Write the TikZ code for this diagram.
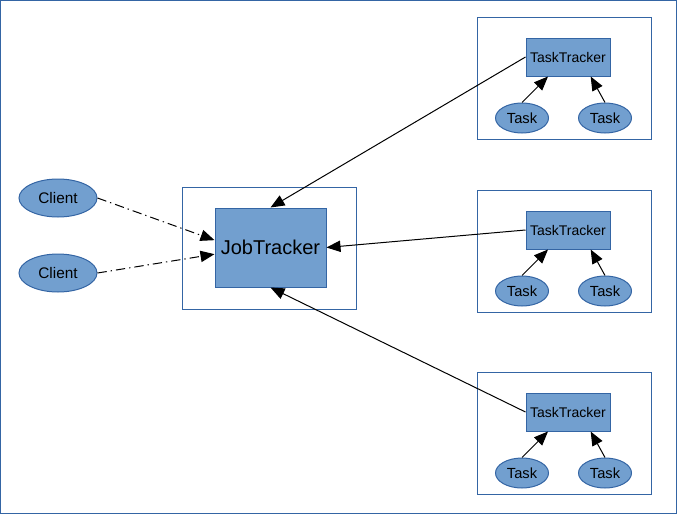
\documentclass[tikz,border=0pt]{standalone}
\usepackage{fontspec}
\setmainfont{Liberation Sans}
\usetikzlibrary{arrows.meta}
\usetikzlibrary{shapes.geometric}
\definecolor{boxfill}{HTML}{729FCF}
\definecolor{boxline}{HTML}{3465A4}
\tikzset{>={Triangle[length=10.5pt,width=8.5pt]}}
\tikzset{
    frame/.style={draw=boxline, line width=0.75pt},
    tracker/.style={draw=boxline, fill=boxfill, line width=0.75pt, inner sep=0pt},
    client/.style={ellipse, draw=boxline, fill=boxfill, line width=0.75pt, inner sep=0pt,
        minimum width=58.5pt, minimum height=28.5pt, font=\fontsize{11.5}{13}\selectfont},
    task/.style={ellipse, draw=boxline, fill=boxfill, line width=0.75pt, inner sep=0pt,
        minimum width=39.75pt, minimum height=22.5pt, font=\fontsize{11}{13}\selectfont},
    dashdot/.style={dash pattern=on 7pt off 3pt on 1pt off 3pt},
}

\begin{document}
\begin{tikzpicture}[x=0.75pt, y=-0.75pt, line width=0.75pt]
		\useasboundingbox (0,0) rectangle (677,514);
		\draw[frame] (0.5,0.5) rectangle (676,513);
		% job tracker
		\draw[frame] (182,187) rectangle (356,309);
		\node[tracker, minimum width=83.25pt, minimum height=59.25pt, font=\fontsize{15}{17}\selectfont] (jt) at (270.5,247.5) {JobTracker};
		% clients
		\node[client] (c1) at (58,198) {Client};
		\node[client] (c2) at (58,273) {Client};
		\draw[->, dashdot] (c1.east) -- ([yshift=5.5pt]jt.west);
		\draw[->, dashdot] (c2.east) -- ([yshift=-5pt]jt.west);
		% task trackers
		\foreach \i/\y in {1/57,2/230,3/412} {
			\draw[frame] (477,\y-40) rectangle (651,\y+82);
			\node[tracker, minimum width=63pt, minimum height=28.5pt, font=\fontsize{10.5}{12}\selectfont] (tt\i) at (568,\y) {TaskTracker};
			\node[task] (ta\i) at (522,\y+61) {Task};
			\node[task] (tb\i) at (605,\y+61) {Task};
			\draw[->] (ta\i.north) -- ([xshift=-15pt]tt\i.south);
			\draw[->] (tb\i.north) -- ([xshift=17pt]tt\i.south);
		}
		\draw[->] (tt1.west) -- (jt.north);
		\draw[->] (tt2.west) -- (jt.east);
		\draw[->] (tt3.west) -- (jt.south);
	\end{tikzpicture}
\end{document}
